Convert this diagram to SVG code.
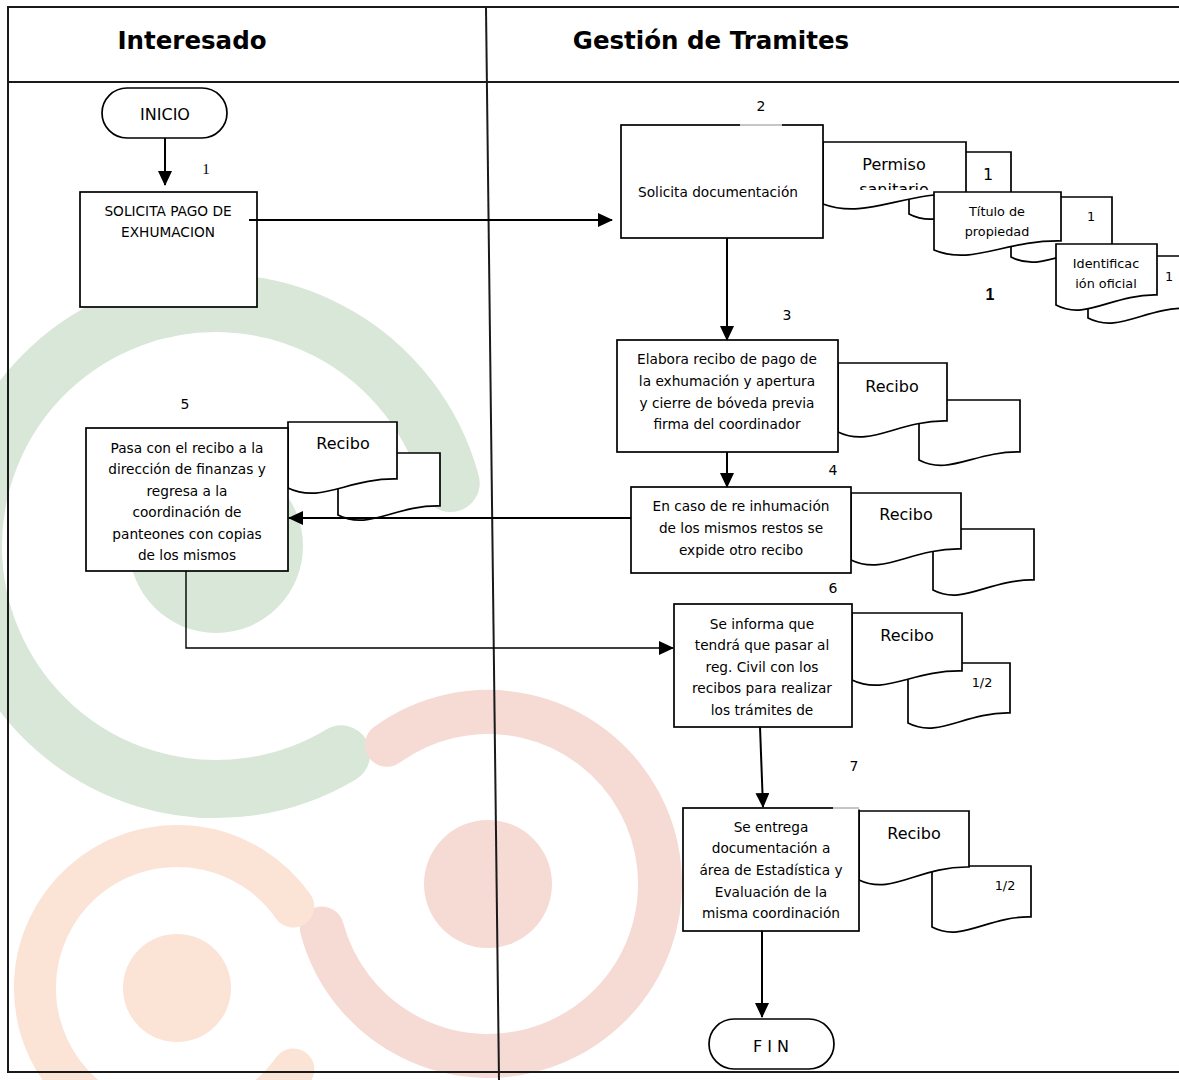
<svg xmlns="http://www.w3.org/2000/svg" width="1179" height="1080" viewBox="0 0 1179 1080">
  <style>
    .box { fill: #ffffff; stroke: #000000; stroke-width: 1.7; }
    .doc { fill: #ffffff; stroke: #000000; stroke-width: 1.7; stroke-linejoin: miter; }
    .frame { fill: none; stroke: #1a1a1a; stroke-width: 2; }
    .t { font-family: "DejaVu Sans", Verdana, sans-serif; font-size: 13.7px; fill: #000000; text-anchor: middle; }
    .lbl { font-family: "DejaVu Sans", Verdana, sans-serif; font-size: 14px; fill: #000000; text-anchor: middle; }
    .rec { font-family: "DejaVu Sans", Verdana, sans-serif; font-size: 16px; fill: #000000; text-anchor: middle; }
    .sm { font-family: "DejaVu Sans", Verdana, sans-serif; font-size: 12.8px; fill: #000000; text-anchor: middle; }
    .head { font-family: "DejaVu Sans", Verdana, sans-serif; font-size: 24.5px; font-weight: bold; fill: #000000; text-anchor: middle; }
    .conn { fill: none; stroke: #000000; stroke-width: 2; }
    .thin { fill: none; stroke: #000000; stroke-width: 1.4; }
  </style>
  <defs>
    <marker id="arrow" markerUnits="userSpaceOnUse" markerWidth="15" markerHeight="14" refX="14" refY="7" orient="auto">
      <path d="M0,0 L15,7 L0,14 z" fill="#000000"/>
    </marker>
    <clipPath id="permisoClip">
      <rect x="823" y="140" width="143" height="50"/>
    </clipPath>
  </defs>

  <rect width="1179" height="1080" fill="#ffffff"/>

  <!-- background emblem -->
  <g id="emblem">
    <circle cx="216" cy="546" r="87" fill="#d8e7d8"/>
    <path d="M450.7,483.1 A243,243 0 1 0 341.2,754.3" fill="none" stroke="#d8e7d8" stroke-width="58" stroke-linecap="round"/>
    <circle cx="488" cy="884" r="64" fill="#f6dad4"/>
    <path d="M386.9,744.8 A172,172 0 1 1 321.9,928.5" fill="none" stroke="#f6dad4" stroke-width="44" stroke-linecap="round"/>
    <circle cx="177" cy="988" r="54" fill="#fbe3d6"/>
    <path d="M293.3,1069.4 A142,142 0 1 1 293.3,906.6" fill="none" stroke="#fbe3d6" stroke-width="42" stroke-linecap="round"/>
  </g>

  <!-- swimlane frame -->
  <g id="lanes">
    <line class="frame" x1="8" y1="7" x2="1179" y2="7"/>
    <line class="frame" x1="8" y1="82" x2="1179" y2="82"/>
    <line class="frame" x1="8" y1="1072" x2="1179" y2="1072"/>
    <line class="frame" x1="8" y1="6" x2="8" y2="1073"/>
    <line class="frame" x1="486" y1="8" x2="499" y2="1080"/>
    <text class="head" x="192" y="49">Interesado</text>
    <text class="head" x="711" y="49">Gestión de Tramites</text>
  </g>

  <!-- documents (back copy first, front copy on top) -->
  <g id="doc-permiso">
    <path class="doc" d="M909,152 H1011 V205 C965,204 939,230 909,214 Z"/>
    <path class="doc" d="M823,142 H966 V193 C902,192 866,220 823,204 Z"/>
    <text class="rec" x="894" y="170">Permiso</text>
    <text class="rec" x="894" y="194.5" clip-path="url(#permisoClip)">sanitario</text>
    <text class="rec" x="988" y="180">1</text>
  </g>
  <g id="doc-titulo">
    <path class="doc" d="M1011,197 H1112 V248 C1067,247 1041,273 1011,257 Z"/>
    <path class="doc" d="M934,192 H1061 V241 C1004,240 972,266 934,250 Z"/>
    <text class="sm" x="997" y="215.5">Título de</text>
    <text class="sm" x="997" y="236">propiedad</text>
    <text class="sm" x="1091" y="220.5">1</text>
  </g>
  <g id="doc-identificacion">
    <path class="doc" d="M1088,256 H1190 V308 C1144,307 1119,334 1088,318 Z"/>
    <path class="doc" d="M1056,244 H1157 V295 C1112,294 1086,321 1056,305 Z"/>
    <text class="sm" x="1106" y="267.5">Identificac</text>
    <text class="sm" x="1106" y="288">ión oficial</text>
    <text class="sm" x="1169" y="280.5">1</text>
    <text x="990" y="300" font-family="Liberation Sans, Arial, sans-serif" font-size="16" font-weight="bold" fill="#000000" text-anchor="middle">1</text>
  </g>
  <g id="doc-recibo-3">
    <path class="doc" d="M919,400 H1020 V452 C975,451 949,476 919,460 Z"/>
    <path class="doc" d="M838,363 H947 V421 C898,420 871,448 838,432 Z"/>
    <text class="rec" x="892" y="392">Recibo</text>
  </g>
  <g id="doc-recibo-4">
    <path class="doc" d="M933,529 H1034 V580 C989,579 963,606 933,590 Z"/>
    <path class="doc" d="M851,493 H961 V549 C911,548 884,576 851,560 Z"/>
    <text class="rec" x="906" y="520">Recibo</text>
  </g>
  <g id="doc-recibo-5">
    <path class="doc" d="M338,453 H440 V506 C394,505 369,531 338,515 Z"/>
    <path class="doc" d="M288,422 H397 V479 C348,478 321,504 288,488 Z"/>
    <text class="rec" x="343" y="449">Recibo</text>
  </g>
  <g id="doc-recibo-6">
    <path class="doc" d="M908,663 H1010 V713 C964,712 939,739 908,723 Z"/>
    <path class="doc" d="M852,613 H962 V671 C912,670 885,696 852,680 Z"/>
    <text class="rec" x="907" y="641">Recibo</text>
    <text class="sm" x="982" y="686.5">1/2</text>
  </g>
  <g id="doc-recibo-7">
    <path class="doc" d="M932,866 H1031 V917 C987,916 962,943 932,927 Z"/>
    <path class="doc" d="M859,811 H969 V867 C919,866 892,896 859,880 Z"/>
    <text class="rec" x="914" y="839">Recibo</text>
    <text class="sm" x="1005" y="889.5">1/2</text>
  </g>

  <!-- process steps -->
  <g id="inicio">
    <rect class="box" x="102" y="88" width="125" height="50" rx="25" ry="25"/>
    <text class="rec" x="165" y="120" font-size="17">INICIO</text>
  </g>
  <g id="paso-1">
    <rect class="box" x="80" y="192" width="177" height="115"/>
    <text class="t" x="168" y="216" font-size="14.2">SOLICITA PAGO DE</text>
    <text class="t" x="168" y="237" font-size="14.2">EXHUMACION</text>
    <text x="206" y="174" font-family="Liberation Serif, Times New Roman, serif" font-size="15" fill="#000000" text-anchor="middle">1</text>
  </g>
  <g id="paso-2">
    <rect class="box" x="621" y="125" width="202" height="113"/>
    <line x1="740" y1="125" x2="782" y2="125" stroke="#ffffff" stroke-width="3"/>
    <line x1="740" y1="125" x2="782" y2="125" stroke="#8c8c8c" stroke-width="1"/>
    <text class="t" x="718" y="197">Solicita documentación</text>
    <text class="lbl" x="761" y="111">2</text>
  </g>
  <g id="paso-3">
    <rect class="box" x="617" y="340" width="221" height="112"/>
    <text class="t" x="727" y="364">Elabora recibo de pago de</text>
    <text class="t" x="727" y="386">la exhumación y apertura</text>
    <text class="t" x="727" y="408">y cierre de bóveda previa</text>
    <text class="t" x="727" y="429">firma del coordinador</text>
    <text class="lbl" x="787" y="320">3</text>
  </g>
  <g id="paso-4">
    <rect class="box" x="631" y="487" width="220" height="86"/>
    <text class="t" x="741" y="511">En caso de re inhumación</text>
    <text class="t" x="741" y="533">de los mismos restos se</text>
    <text class="t" x="741" y="555">expide otro recibo</text>
    <text class="lbl" x="833" y="475">4</text>
  </g>
  <g id="paso-5">
    <rect class="box" x="86" y="428" width="202" height="143"/>
    <text class="t" x="187" y="453">Pasa con el recibo a la</text>
    <text class="t" x="187" y="474">dirección de finanzas y</text>
    <text class="t" x="187" y="496">regresa a la</text>
    <text class="t" x="187" y="517">coordinación de</text>
    <text class="t" x="187" y="539">panteones con copias</text>
    <text class="t" x="187" y="560">de los mismos</text>
    <text class="lbl" x="185" y="409">5</text>
  </g>
  <g id="paso-6">
    <rect class="box" x="674" y="604" width="178" height="123"/>
    <text class="t" x="762" y="629">Se informa que</text>
    <text class="t" x="762" y="650">tendrá que pasar al</text>
    <text class="t" x="762" y="672">reg. Civil con los</text>
    <text class="t" x="762" y="693">recibos para realizar</text>
    <text class="t" x="762" y="715">los trámites de</text>
    <text class="lbl" x="833" y="593">6</text>
  </g>
  <g id="paso-7">
    <rect class="box" x="683" y="808" width="176" height="123"/>
    <line x1="833" y1="808" x2="860" y2="808" stroke="#ffffff" stroke-width="3"/>
    <line x1="833" y1="808" x2="859" y2="808" stroke="#8c8c8c" stroke-width="1"/>
    <text class="t" x="771" y="832">Se entrega</text>
    <text class="t" x="771" y="853">documentación a</text>
    <text class="t" x="771" y="875">área de Estadística y</text>
    <text class="t" x="771" y="897">Evaluación de la</text>
    <text class="t" x="771" y="918">misma coordinación</text>
    <text class="lbl" x="854" y="771">7</text>
  </g>
  <g id="fin">
    <rect class="box" x="709" y="1019" width="125" height="50" rx="25" ry="25"/>
    <text class="rec" x="771" y="1052" font-size="17">F I N</text>
  </g>

  <!-- connectors -->
  <g id="connectors">
    <line class="conn" x1="165" y1="138" x2="165" y2="185" marker-end="url(#arrow)"/>
    <line class="conn" x1="249" y1="220" x2="612" y2="220" marker-end="url(#arrow)"/>
    <line class="conn" x1="727" y1="238" x2="727" y2="340" marker-end="url(#arrow)"/>
    <line class="conn" x1="727" y1="452" x2="727" y2="487" marker-end="url(#arrow)"/>
    <line class="conn" x1="631" y1="518" x2="289" y2="518" marker-end="url(#arrow)"/>
    <polyline class="thin" points="186,571 186,648 673,648" marker-end="url(#arrow)"/>
    <line class="conn" x1="760" y1="727" x2="763" y2="807" marker-end="url(#arrow)"/>
    <line class="conn" x1="762" y1="931" x2="762" y2="1017" marker-end="url(#arrow)"/>
  </g>
</svg>
